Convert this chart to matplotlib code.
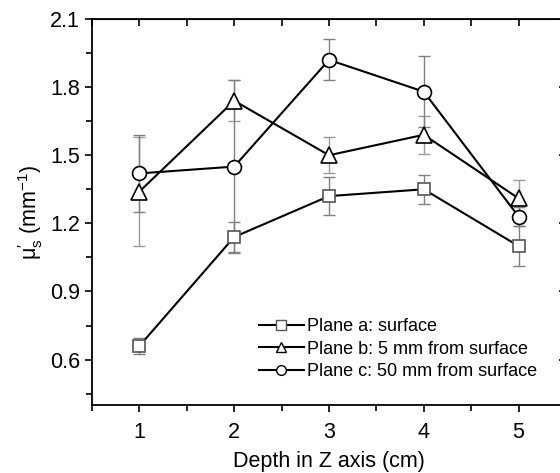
import matplotlib
matplotlib.use("Agg")
import matplotlib.pyplot as plt
from matplotlib.ticker import MultipleLocator

plt.rcParams['font.family'] = ['Liberation Sans', 'DejaVu Sans']
plt.rcParams['mathtext.fontset'] = 'custom'
plt.rcParams['mathtext.rm'] = 'Liberation Sans'
plt.rcParams['mathtext.it'] = 'Liberation Sans'

depth = [1, 2, 3, 4, 5]

plane_a = [0.66, 1.14, 1.32, 1.35, 1.10]
plane_a_err = [0.035, 0.068, 0.085, 0.065, 0.09]

plane_b = [1.34, 1.74, 1.50, 1.59, 1.31]
plane_b_err = [0.24, 0.09, 0.08, 0.085, 0.08]

plane_c = [1.42, 1.45, 1.92, 1.78, 1.23]
plane_c_err = [0.17, 0.38, 0.09, 0.155, 0.04]

labels = ["Plane a: surface",
          "Plane b: 5 mm from surface",
          "Plane c: 50 mm from surface"]

fig = plt.figure(figsize=(5.6, 4.73), dpi=100)
ax = fig.add_axes([0.1643, 0.1438, 0.8464, 0.816])

series = [
    (plane_a, plane_a_err, 's', '#555555', '#808080', 9),
    (plane_b, plane_b_err, '^', 'black', '#999999', 11),
    (plane_c, plane_c_err, 'o', 'black', '#808080', 10),
]

for (vals, err, mk, mec, ecol, ms), lab in zip(series, labels):
    ax.errorbar(depth, vals, yerr=err, fmt='none', ecolor=ecol,
                elinewidth=1, capsize=4, capthick=1, zorder=1)
    ax.plot(depth, vals, color='black', lw=1.5, marker=mk, ms=ms,
            mfc='white', mec=mec, mew=1.2, zorder=2)
    # legend proxy with smaller marker
    ax.plot([], [], color='black', lw=1.5, marker=mk, ms=7,
            mfc='white', mec=mec, mew=1.0, label=lab)

ax.set_xlim(0.5, 5.5)
ax.set_ylim(0.4, 2.1)
ax.xaxis.set_major_locator(MultipleLocator(1))
ax.xaxis.set_minor_locator(MultipleLocator(0.5))
ax.yaxis.set_minor_locator(MultipleLocator(0.15))
ax.set_yticks([0.6, 0.9, 1.2, 1.5, 1.8, 2.1])

ax.tick_params(axis='both', which='major', labelsize=15.5, length=5,
               width=1.2, direction='out', top=False, right=False)
ax.tick_params(axis='x', which='major', pad=7)
ax.tick_params(axis='both', which='minor', length=4, width=1.2,
               direction='out', top=False, right=False)
sec_x = ax.secondary_xaxis('top')
sec_x.xaxis.set_major_locator(MultipleLocator(1))
sec_x.xaxis.set_minor_locator(MultipleLocator(0.5))
sec_x.tick_params(which='both', direction='in', length=5, width=1.2,
                  labeltop=False)
sec_y = ax.secondary_yaxis('right')
sec_y.tick_params(which='both', direction='in', length=5, width=1.2,
                  labelright=False)
sec_y.set_yticks([0.6, 0.9, 1.2, 1.5, 1.8, 2.1])
sec_y.set_yticklabels([])

for s in ax.spines.values():
    s.set_linewidth(1.3)

ax.set_xlabel("Depth in Z axis (cm)", fontsize=15.5, labelpad=6)
ax.set_ylabel(r"$\mathrm{\mu_s^{\prime}}$ (mm$^{-1}$)", fontsize=15.5,
              labelpad=4)

ax.legend(loc='upper left', bbox_to_anchor=(0.352, 0.225), frameon=False,
          fontsize=13, handlelength=2.5, handletextpad=0.15,
          labelspacing=0.3, borderpad=0, borderaxespad=0)

fig.savefig("out.png", dpi=100)
